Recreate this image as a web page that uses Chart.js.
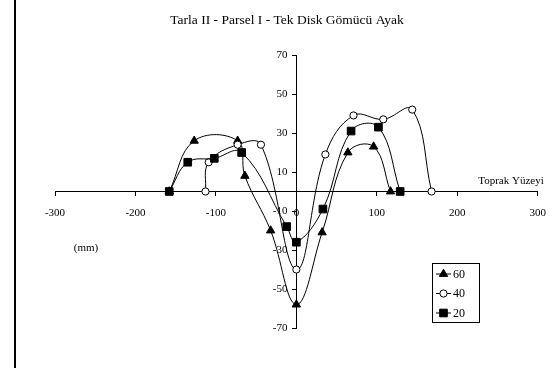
<!DOCTYPE html>
<html>
<head>
<meta charset="utf-8">
<script src="https://cdn.jsdelivr.net/npm/chart.js@4/dist/chart.umd.min.js"></script>
<style>
  html, body { margin: 0; padding: 0; background: #fff; }
  #wrap { width: 557px; height: 368px; }
</style>
</head>
<body>
<div id="wrap"><canvas id="myChart" width="557" height="368"></canvas></div>
<script>
const chartTitle = "Tarla II - Parsel I - Tek Disk Gömücü Ayak";
const seriesNames = ["60", "40", "20"];

// x (mm, yatay konum) / y (mm, derinlik) okumalari
const x60 = [-158, -127, -73, -64, -32, 0, 32, 64, 96, 117];
const y60 = [0, 26, 26, 8, -20, -58, -21, 20, 23, 0];

const x40 = [-113, -109, -73, -44, 0, 36, 71, 108, 144, 168];
const y40 = [0, 15, 24, 24, -40, 19, 39, 37, 42, 0];

const x20 = [-158, -135, -102, -68, -12, 0, 33, 68, 102, 129];
const y20 = [0, 15, 17, 20, -18, -26, -9, 31, 33, 0];

const xTicks = [-300, -200, -100, 0, 100, 200, 300];
const yTicks = [-70, -50, -30, -10, 10, 30, 50, 70];

const FONT = "'Liberation Serif', 'Times New Roman', serif";

function pts(xs, ys) {
  return xs.map((x, i) => ({ x: x, y: ys[i] }));
}

const styles = [
  { pointStyle: "triangle", radius: 4.8, fill: "#000" },
  { pointStyle: "circle", radius: 3.6, fill: "#fff" },
  { pointStyle: "rect", radius: 5.4, fill: "#000" },
];

const extraText = {
  id: "extraText",
  beforeDraw(chart) {
    const c = chart.ctx;
    c.save();
    c.strokeStyle = "#000";
    c.lineWidth = 2;
    c.beginPath();
    c.moveTo(15, 0);
    c.lineTo(15, chart.height);
    c.stroke();
    c.restore();
  },
  afterDraw(chart) {
    const c = chart.ctx;
    const xs = chart.scales.x;
    const ys = chart.scales.y;
    const x0 = xs.getPixelForValue(0);
    c.save();
    c.fillStyle = "#000";
    c.textBaseline = "middle";

    // title
    c.font = "13.5px " + FONT;
    c.textAlign = "center";
    c.fillText(chartTitle, 287, 20);

    // y tick labels, left of the axis
    c.font = "11px " + FONT;
    c.textAlign = "right";
    yTicks.forEach((v) => {
      c.fillText(String(v), x0 - 9, ys.getPixelForValue(v) + 0.5);
    });

    c.fillText("Toprak Yüzeyi", xs.right + 6, ys.getPixelForValue(0) - 10);
    c.textAlign = "center";
    c.fillText("(mm)", 86, 248);

    // legend
    c.strokeStyle = "#000";
    c.lineWidth = 1;
    c.strokeRect(432.5, 263.5, 47, 59);
    chart.data.datasets.forEach((ds, i) => {
      const yy = 274 + i * 19.5;
      c.beginPath();
      c.moveTo(436, yy);
      c.lineTo(451, yy);
      c.stroke();
      c.fillStyle = ds.pointBackgroundColor;
      Chart.helpers.drawPoint(c, {
        pointStyle: ds.pointStyle,
        radius: ds.pointRadius,
        rotation: 0,
        borderWidth: 1,
      }, 443.5, yy);
      c.fillStyle = "#000";
      c.textAlign = "left";
      c.font = "12px " + FONT;
      c.fillText(ds.label, 453, yy + 0.5);
    });
    c.restore();
  },
};

const datasets = [pts(x60, y60), pts(x40, y40), pts(x20, y20)].map((d, i) => ({
  label: seriesNames[i],
  data: d,
  showLine: true,
  tension: 0.4,
  borderColor: "#000",
  borderWidth: 1,
  pointStyle: styles[i].pointStyle,
  pointRadius: styles[i].radius,
  pointHoverRadius: styles[i].radius,
  pointBackgroundColor: styles[i].fill,
  pointBorderColor: "#000",
  pointBorderWidth: 1,
  order: 3 - i,
}));

const ctx = document.getElementById("myChart").getContext("2d");
const chart = new Chart(ctx, {
  type: "scatter",
  data: { datasets: datasets },
  options: {
    responsive: false,
    animation: false,
    events: [],
    layout: { padding: { left: 55, right: 14, top: 55, bottom: 40 } },
    plugins: {
      legend: { display: false },
      tooltip: { enabled: false },
      title: { display: false },
    },
    scales: {
      x: {
        type: "linear",
        position: { y: 0 },
        min: -300,
        max: 300,
        afterBuildTicks: (s) => { s.ticks = xTicks.map((v) => ({ value: v })); },
        ticks: {
          color: "#000",
          font: { family: FONT, size: 11 },
          padding: 11,
          maxRotation: 0,
        },
        grid: { drawOnChartArea: false, color: "#000", tickLength: 4 },
        border: { color: "#000", width: 1 },
      },
      y: {
        type: "linear",
        position: { x: 0 },
        min: -70,
        max: 70,
        afterBuildTicks: (s) => { s.ticks = yTicks.map((v) => ({ value: v })); },
        ticks: { display: false },
        grid: { drawOnChartArea: false, color: "#000", tickLength: 4 },
        border: { color: "#000", width: 1 },
      },
    },
  },
  plugins: [extraText],
});
</script>
</body>
</html>
